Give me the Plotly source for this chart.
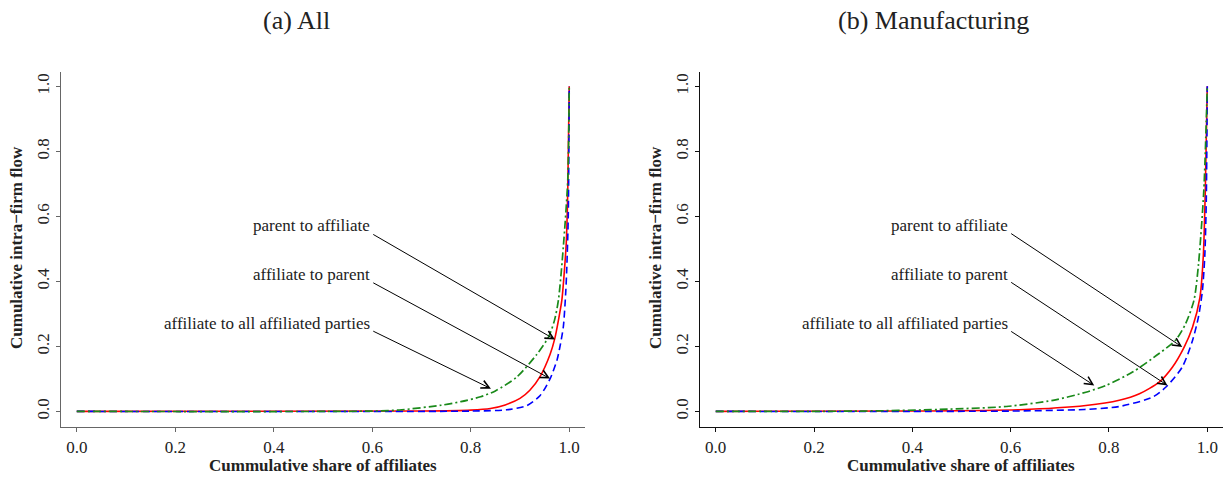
import plotly.graph_objects as go

# ---------------- data ----------------
# Panel (a) All
a_p2a_x = [0, 0.7, 0.8, 0.84, 0.87, 0.9, 0.92, 0.941, 0.961, 0.971, 0.978, 0.985, 0.990, 0.994, 0.997, 1.0]
a_p2a_y = [0, 0.001, 0.004, 0.009, 0.02, 0.04, 0.065, 0.108, 0.175, 0.226, 0.28, 0.342, 0.43, 0.52, 0.68, 1.0]
a_a2p_x = [0, 0.8, 0.873, 0.914, 0.941, 0.961, 0.975, 0.981, 0.988, 0.993, 0.995, 0.998, 1.0]
a_a2p_y = [0, 0.001, 0.005, 0.018, 0.049, 0.10, 0.157, 0.198, 0.26, 0.37, 0.44, 0.6, 1.0]
a_all_x = [0, 0.6, 0.66, 0.74, 0.78, 0.82, 0.85, 0.893, 0.934, 0.958, 0.97, 0.978, 0.988, 0.997, 1.0]
a_all_y = [0, 0.001, 0.005, 0.019, 0.03, 0.045, 0.063, 0.105, 0.175, 0.229, 0.28, 0.342, 0.506, 0.711, 1.0]

# Panel (b) Manufacturing
b_p2a_x = [0, 0.4, 0.618, 0.753, 0.821, 0.862, 0.902, 0.929, 0.953, 0.970, 0.985, 0.992, 0.996, 1.0]
b_p2a_y = [0, 0.001, 0.005, 0.018, 0.034, 0.054, 0.09, 0.136, 0.198, 0.259, 0.35, 0.48, 0.68, 1.0]
b_a2p_x = [0, 0.6, 0.75, 0.821, 0.889, 0.916, 0.949, 0.970, 0.982, 0.990, 0.995, 0.998, 1.0]
b_a2p_y = [0, 0.001, 0.006, 0.015, 0.044, 0.075, 0.136, 0.218, 0.29, 0.37, 0.48, 0.65, 1.0]
b_all_x = [0, 0.3, 0.455, 0.591, 0.686, 0.753, 0.794, 0.848, 0.902, 0.936, 0.956, 0.973, 0.982, 0.993, 1.0]
b_all_y = [0, 0.001, 0.006, 0.015, 0.034, 0.059, 0.08, 0.121, 0.178, 0.22, 0.27, 0.342, 0.45, 0.68, 1.0]

tick_vals = [0, 0.2, 0.4, 0.6, 0.8, 1.0]
tick_text = ["0.0", "0.2", "0.4", "0.6", "0.8", "1.0"]

panel_titles = ["(a) All", "(b) Manufacturing"]
x_title = "Cummulative share of affiliates"
y_title = "Cumulative intra\u2212firm flow"
labels = ["parent to affiliate", "affiliate to parent", "affiliate to all affiliated parties"]

# annotation geometry (data coords): label right edge / y, arrow tail, arrow head
a_label_y = [0.572, 0.422, 0.270]
a_tail = [(0.599, 0.547), (0.599, 0.398), (0.599, 0.249)]
a_head = [(0.971, 0.221), (0.961, 0.101), (0.841, 0.070)]
b_label_y = [0.572, 0.422, 0.270]
b_tail = [(0.598, 0.550), (0.598, 0.400), (0.598, 0.249)]
b_head = [(0.949, 0.198), (0.919, 0.080), (0.770, 0.080)]

# ---------------- figure ----------------
FONT = "Liberation Serif"
W, H = 1225, 477
RED, BLUE, GREEN = "#ff0000", "#0000ff", "#1a8a1a"

fig = go.Figure()

def add_panel(xa, ya, p2a, a2p, allp):
    common = dict(mode="lines", xaxis=xa, yaxis=ya, showlegend=False, hoverinfo="skip")
    fig.add_trace(go.Scatter(x=p2a[0], y=p2a[1], line=dict(color=RED, width=1.6, shape="spline", smoothing=0.7), **common))
    fig.add_trace(go.Scatter(x=a2p[0], y=a2p[1], line=dict(color=BLUE, width=1.6, dash="7px,4px", shape="spline", smoothing=0.7), **common))
    fig.add_trace(go.Scatter(x=allp[0], y=allp[1], line=dict(color=GREEN, width=1.7, dash="8px,3px,2px,3px", shape="spline", smoothing=0.7), **common))

add_panel("x", "y", (a_p2a_x, a_p2a_y), (a_a2p_x, a_a2p_y), (a_all_x, a_all_y))
add_panel("x2", "y2", (b_p2a_x, b_p2a_y), (b_a2p_x, b_a2p_y), (b_all_x, b_all_y))

def px_x(p):
    return p / W

def px_y(p):
    return (H - p) / H

xr = [-0.032, 1.032]
yr = [-0.048, 1.044]
ydom = [px_y(427), px_y(72)]

def xaxis(dom, lc, anchor):
    return dict(domain=dom, range=xr, showline=True, linecolor=lc, linewidth=1.3, anchor=anchor,
                ticks="outside", ticklen=4, tickcolor=lc, tickwidth=1,
                tickvals=tick_vals, ticktext=tick_text, showgrid=False, zeroline=False,
                tickfont=dict(family=FONT, size=17, color="#222"), fixedrange=True)

def yaxis(dom, lc, anchor):
    return dict(domain=dom, range=yr, showline=True, linecolor=lc, linewidth=1.3,
                ticks="outside", ticklen=4, tickcolor=lc, tickwidth=1, tickangle=-90,
                tickvals=tick_vals, ticktext=tick_text, showgrid=False, zeroline=False,
                anchor=anchor, tickfont=dict(family=FONT, size=17, color="#222"), fixedrange=True)

fig.update_layout(
    width=W, height=H,
    margin=dict(l=0, r=0, t=0, b=0),
    paper_bgcolor="white", plot_bgcolor="white",
    xaxis=xaxis([px_x(61), px_x(585)], "#666", "y"),
    yaxis=yaxis(ydom, "#666", "x"),
    xaxis2=xaxis([px_x(700), px_x(1223)], "#111", "y2"),
    yaxis2=yaxis(ydom, "#111", "x2"),
    font=dict(family=FONT, color="#222"),
)

ann = []
# panel titles
for cx, t in zip([296, 933], panel_titles):
    ann.append(dict(text=t, x=px_x(cx), y=px_y(21), xref="paper", yref="paper",
                    xanchor="center", yanchor="middle", showarrow=False,
                    font=dict(family=FONT, size=26, color="#222")))
# axis titles
for cx, cyl in [(323, 17), (961, 656)]:
    ann.append(dict(text="<b>" + x_title + "</b>", x=px_x(cx), y=px_y(465), xref="paper", yref="paper",
                    xanchor="center", yanchor="middle", showarrow=False,
                    font=dict(family=FONT, size=17, color="#222")))
    ann.append(dict(text="<b>" + y_title + "</b>", x=px_x(cyl), y=px_y(248), xref="paper", yref="paper",
                    xanchor="center", yanchor="middle", showarrow=False, textangle=-90,
                    font=dict(family=FONT, size=17, color="#222")))

def add_labels(xr_, yr_, label_y, tails, heads):
    for lab, ly, (tx, ty), (hx, hy) in zip(labels, label_y, tails, heads):
        ann.append(dict(text=lab, x=tx, y=ly, xref=xr_, yref=yr_, xanchor="right", yanchor="middle",
                        showarrow=False, font=dict(family=FONT, size=17, color="#222")))
        ann.append(dict(text="", x=hx, y=hy, xref=xr_, yref=yr_, ax=tx, ay=ty, axref=xr_, ayref=yr_,
                        showarrow=True, arrowhead=5, arrowsize=1.6, arrowwidth=1, arrowcolor="black",
                        standoff=0, startstandoff=0))

add_labels("x", "y", a_label_y, a_tail, a_head)
add_labels("x2", "y2", b_label_y, b_tail, b_head)

fig.update_layout(annotations=ann)
fig.write_html("out.html", config={"displayModeBar": False},
               post_script="document.body.style.margin='0px';document.body.style.overflow='hidden';")
